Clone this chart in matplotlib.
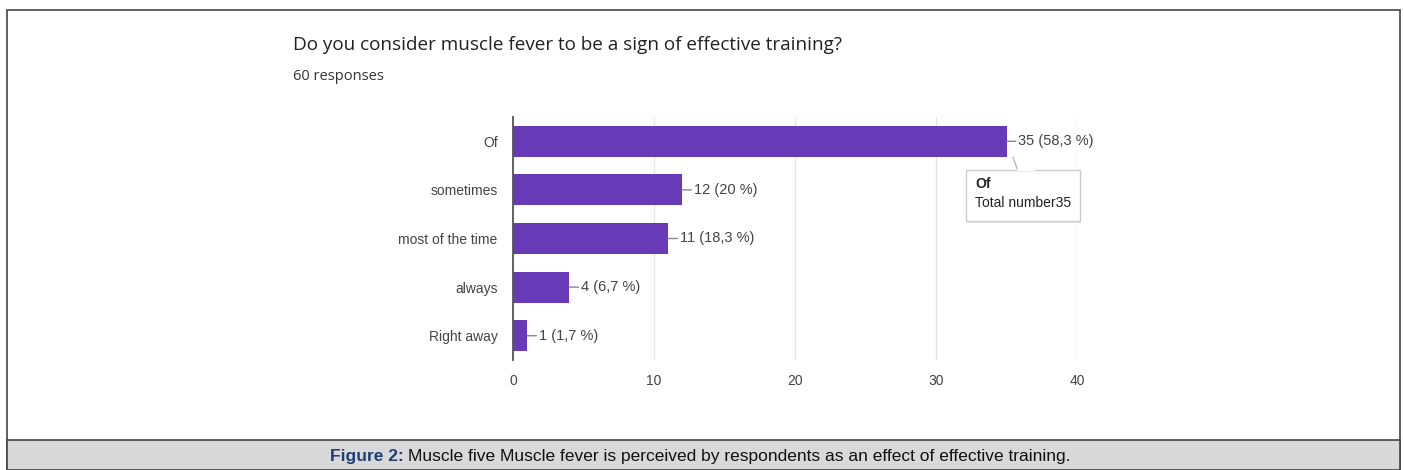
import matplotlib
matplotlib.use("Agg")
import matplotlib.pyplot as plt
from matplotlib.patches import Rectangle, Polygon, FancyBboxPatch

# Survey answers and counts
categories = ["Of", "sometimes", "most of the time", "always", "Right away"]
counts = [35, 12, 11, 4, 1]
percent_labels = ["58,3", "20", "18,3", "6,7", "1,7"]
xticks = [0, 10, 20, 30, 40]
total_responses = 60

W, H = 1404, 470
fig = plt.figure(figsize=(W / 100, H / 100), dpi=100)
fig.patch.set_facecolor("white")

def fx(px):
    return px / W

def fy(py):
    return 1 - py / H

# Outer frame and caption band
fig.patches.append(Rectangle((fx(7), fy(470)), fx(1400) - fx(7), fy(10) - fy(470),
                             transform=fig.transFigure, facecolor="white",
                             edgecolor="#444444", linewidth=1.2, zorder=-3))
fig.patches.append(Rectangle((fx(7), fy(470)), fx(1400) - fx(7), fy(440) - fy(470),
                             transform=fig.transFigure, facecolor="#d9d9d9",
                             edgecolor="#444444", linewidth=1.2, zorder=-2))

cap_font = ["Liberation Sans Narrow", "Liberation Sans", "DejaVu Sans"]
t1 = fig.text(fx(330), fy(457), "Figure 2:", fontsize=12.5, fontweight="bold",
              color="#1f3f77", family=cap_font, va="center", ha="left")
fig.canvas.draw()
bb = t1.get_window_extent()
fig.text(bb.x1 / W + fx(4), fy(457),
         "Muscle five Muscle fever is perceived by respondents as an effect of effective training.",
         fontsize=12.5, color="#111111", family=cap_font, va="center", ha="left")

# Question header
head_font = ["Open Sans", "Roboto", "DejaVu Sans"]
fig.text(fx(293), fy(45), "Do you consider muscle fever to be a sign of effective training?",
         fontsize=13.6, color="#202124", family=head_font, va="center")
fig.text(fx(293), fy(77), f"{total_responses} responses", fontsize=10.5,
         color="#333333", family=head_font, va="center")

# Bar chart
ax = fig.add_axes([fx(513), fy(360), fx(1077) - fx(513), fy(117) - fy(360)])
ax.set_zorder(2)
ax.patch.set_alpha(0)
ypos = list(range(len(categories)))
ax.barh(ypos, counts, height=0.64, color="#673ab7", zorder=3)
ax.set_xlim(0, 40)
ax.set_ylim(4.5, -0.5)
ax.set_xticks(xticks)
ax.set_xticklabels([str(t) for t in xticks])
ax.set_yticks(ypos)
ax.set_yticklabels(categories)
lab_font = ["Liberation Sans", "DejaVu Sans"]
for lbl in ax.get_xticklabels() + ax.get_yticklabels():
    lbl.set_family(lab_font)
    lbl.set_fontsize(10)
    lbl.set_color("#444444")
ax.tick_params(axis="both", length=0)
ax.tick_params(axis="y", pad=11)
ax.tick_params(axis="x", pad=10)
ax.grid(axis="x", color="#e6e6e6", linewidth=1, zorder=0)
for side in ["top", "right", "bottom"]:
    ax.spines[side].set_visible(False)
ax.spines["left"].set_color("#555555")
ax.spines["left"].set_linewidth(1.3)
ax.spines["left"].set_zorder(4)

# Value labels with leader lines
for i, (v, p) in enumerate(zip(counts, percent_labels)):
    ax.annotate(f"{v} ({p} %)", xy=(v, i), xytext=(12, 0), textcoords="offset pixels",
                va="center", ha="left", fontsize=10.5, color="#444444", family=lab_font,
                arrowprops=dict(arrowstyle="-", color="#888888", lw=1,
                                shrinkA=0, shrinkB=0), zorder=5)

# Tooltip for the top bar
v0 = counts[0]
box_l, box_r = v0 - 2.9, v0 + 5.2
box_t, box_b = 0.60, 1.65
shadow = FancyBboxPatch((box_l + 0.08, box_t + 0.04), box_r - box_l, box_b - box_t,
                        boxstyle="square,pad=0", facecolor="#e8e8e8", edgecolor="none",
                        clip_on=False, zorder=5)
ax.add_patch(shadow)
box = FancyBboxPatch((box_l, box_t), box_r - box_l, box_b - box_t,
                     boxstyle="square,pad=0", facecolor="white", edgecolor="#cccccc",
                     linewidth=1, clip_on=False, zorder=6)
ax.add_patch(box)
ptr = Polygon([(v0 + 0.45, 0.32), (v0 + 0.8, box_t), (v0 + 2.0, box_t)], closed=False,
              facecolor="white", edgecolor="#bbbbbb", linewidth=1, clip_on=False, zorder=7)
ax.add_patch(ptr)
ax.plot([v0 + 0.85, v0 + 1.95], [box_t, box_t], color="white", lw=1.5, zorder=8,
        clip_on=False)
ax.text(box_l + 0.7, 0.88, categories[0], fontsize=10, fontweight="bold", color="#222222",
        family=lab_font, va="center", zorder=9)
ax.text(box_l + 0.7, 1.27, f"Total number{v0}", fontsize=10, color="#222222",
        family=lab_font, va="center", zorder=9)

fig.savefig("out.png", dpi=100)
